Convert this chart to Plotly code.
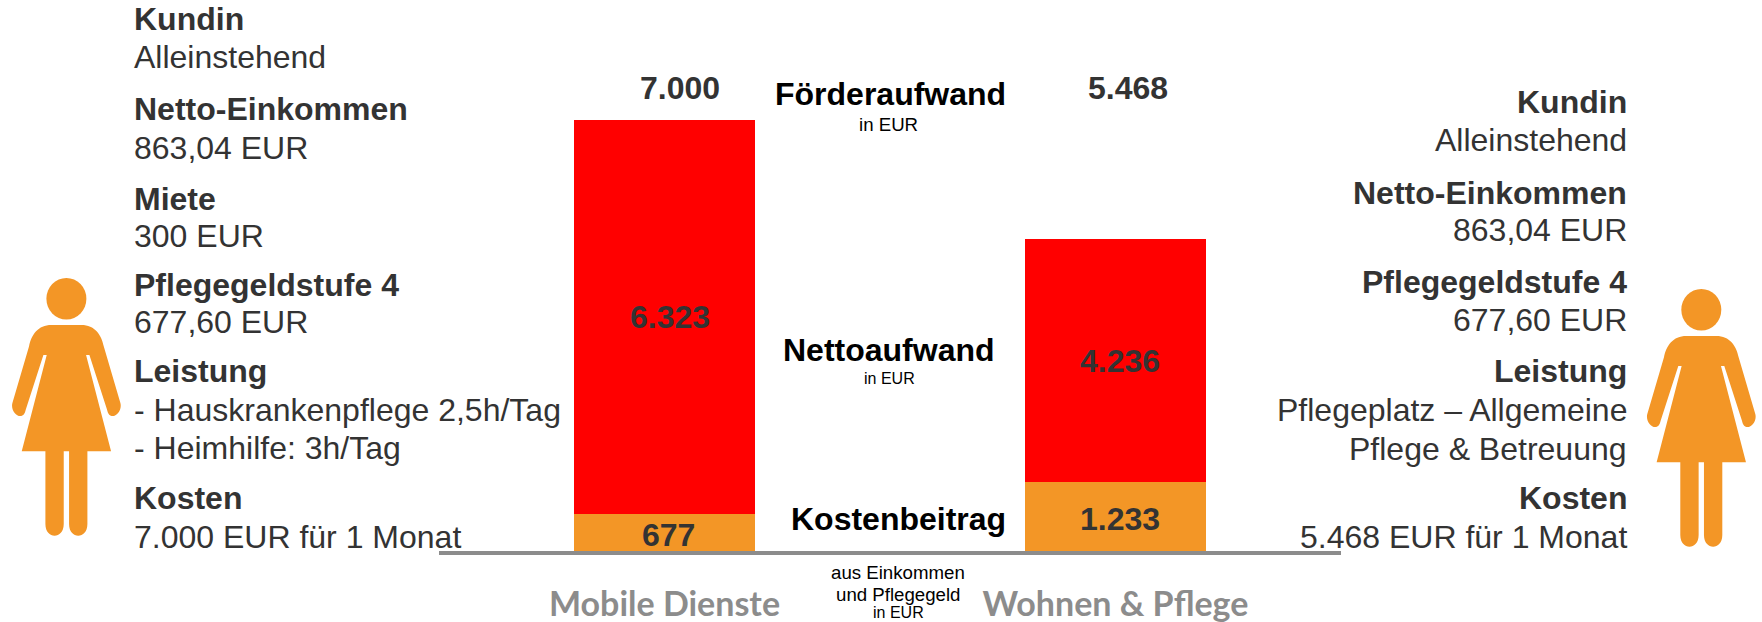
import plotly.graph_objects as go

W, H = 1762, 622
PLOT_L, PLOT_R, PLOT_B = 439, 1341, 551

# ---- data ----
categories = ["Mobile Dienste", "Wohnen & Pflege"]
# Printed figures
kostenbeitrag_labels = ["677", "1.233"]
nettoaufwand_labels = ["6.323", "4.236"]
total_labels = ["7.000", "5.468"]
# Drawn bar heights (the original is not drawn strictly to its labels)
kostenbeitrag_heights = [600, 1120]
nettoaufwand_heights = [6400, 3947]
Y_MAX = 8950

left_lines = [
    ("Kundin", True), ("Alleinstehend", False),
    ("Netto-Einkommen", True), ("863,04 EUR", False),
    ("Miete", True), ("300 EUR", False),
    ("Pflegegeldstufe 4", True), ("677,60 EUR", False),
    ("Leistung", True), ("- Hauskrankenpflege 2,5h/Tag", False), ("- Heimhilfe: 3h/Tag", False),
    ("Kosten", True), ("7.000 EUR für 1 Monat", False),
]
left_y = [19, 57, 109, 148, 199, 236, 285, 322, 371, 410, 448, 498, 537]
right_lines = [
    ("Kundin", True), ("Alleinstehend", False),
    ("Netto-Einkommen", True), ("863,04 EUR", False),
    ("Pflegegeldstufe 4", True), ("677,60 EUR", False),
    ("Leistung", True), ("Pflegeplatz – Allgemeine", False), ("Pflege & Betreuung", False),
    ("Kosten", True), ("5.468 EUR für 1 Monat", False),
]
right_y = [102, 140, 193, 230, 282, 320, 371, 410, 449, 498, 537]

ORANGE = "#F39626"
RED = "#FF0000"
DARK = "#333333"
GREY = "#8C8C8C"
FONT = "Liberation Sans"
SIZE = 32
SMALL = 18.67
TINY = 16


def px(x):
    return (x - PLOT_L) / (PLOT_R - PLOT_L)


def py(y):
    return (PLOT_B - y) / PLOT_B


fig = go.Figure()
fig.add_bar(x=categories, y=kostenbeitrag_heights, marker_color=ORANGE, marker_line_width=0, hoverinfo="skip")
fig.add_bar(x=categories, y=nettoaufwand_heights, marker_color=RED, marker_line_width=0, hoverinfo="skip")

# value labels sit at the middle of each segment, slightly right of the bar centre as in the reference
for i, cat in enumerate(categories):
    k, n = kostenbeitrag_heights[i], nettoaufwand_heights[i]
    fig.add_annotation(x=cat, y=k / 2, xref="x", yref="y", text=f"<b>{kostenbeitrag_labels[i]}</b>",
                       showarrow=False, xshift=4, yshift=-2, font=dict(family=FONT, size=SIZE, color=DARK))
    fig.add_annotation(x=cat, y=k + n / 2, xref="x", yref="y", text=f"<b>{nettoaufwand_labels[i]}</b>",
                       showarrow=False, xshift=5 if i == 0 else 4, font=dict(family=FONT, size=SIZE, color=DARK))


def note(text, x, y, size=SIZE, bold=False, color=DARK, anchor="center"):
    fig.add_annotation(text=f"<b>{text}</b>" if bold else text, x=px(x), y=py(y), xref="paper", yref="paper",
                       showarrow=False, xanchor=anchor, yanchor="middle", align=anchor,
                       font=dict(family=FONT, size=size, color=color), borderpad=0, borderwidth=0)


for (t, b), y in zip(left_lines, left_y):
    note(t, 134, y, bold=b, anchor="left")
for (t, b), y in zip(right_lines, right_y):
    note(t, 1627, y, bold=b, anchor="right")

note(total_labels[0], 680, 88, bold=True)
note(total_labels[1], 1128, 88, bold=True)
note("Förderaufwand", 890, 94, bold=True, color="#000000")
note("in EUR", 888, 125, size=SMALL, color="#000000")
note("Nettoaufwand", 889, 350, bold=True, color="#000000")
note("in EUR", 889, 378, size=TINY, color="#000000")
note("Kostenbeitrag", 898, 519, bold=True, color="#000000")
note("aus Einkommen", 898, 572, size=SMALL, color="#000000")
note("und Pflegegeld", 898, 594, size=SMALL, color="#000000")
note("in EUR", 898, 612, size=TINY, color="#000000")


# ---- person icons ----
def person(cx, top):
    def P(dx, dy):
        return f"{px(cx + dx / 3):.5f},{py(top + dy / 3):.5f}"

    half = [  # right half of the silhouette, from the shoulder down (icon units)
        "L", (45, 141), "C", (85, 141, 105, 170, 112, 205), "L", (162, 375),
        "C", (170, 405, 130, 435, 122, 395), "L", (69, 231), "L", (59, 231), "L", (134, 520), "L", (63, 520), "L", (63, 738),
        "C", (63, 785, 8, 785, 8, 738), "L", (8, 520),
    ]
    d = f"M {P(0, 141)}"
    i = 0
    while i < len(half):
        c, v = half[i], half[i + 1]
        i += 2
        d += f" {c} " + " ".join(P(v[k], v[k + 1]) for k in range(0, len(v), 2))
    d += f" L {P(-8, 520)} L {P(-8, 738)} C {P(-8, 785)} {P(-63, 785)} {P(-63, 738)} L {P(-63, 520)} L {P(-134, 520)}"
    d += f" L {P(-59, 231)} L {P(-69, 231)} L {P(-122, 395)} C {P(-130, 435)} {P(-170, 405)} {P(-162, 375)}"
    d += f" L {P(-112, 205)} C {P(-105, 170)} {P(-85, 141)} {P(-45, 141)} Z"
    fig.add_shape(type="path", path=d, xref="paper", yref="paper", fillcolor=ORANGE, line_width=0)
    fig.add_shape(type="circle", xref="paper", yref="paper", x0=px(cx - 20), x1=px(cx + 20),
                  y0=py(top), y1=py(top + 41.5), fillcolor=ORANGE, line_width=0)


person(66.4, 278)
person(1701.3, 289)

fig.update_layout(
    width=W, height=H, barmode="stack", bargap=0.6, showlegend=False,
    margin=dict(l=PLOT_L, r=W - PLOT_R, t=0, b=H - PLOT_B, autoexpand=False),
    paper_bgcolor="white", plot_bgcolor="white",
    xaxis=dict(range=[-0.5, 1.5], showgrid=False, zeroline=False, showline=True, linecolor=GREY, linewidth=4,
               ticks="outside", ticklen=20, tickcolor="rgba(0,0,0,0)", tickwidth=1,
               tickfont=dict(family="Lato", size=34, color=GREY, weight="bold")),
    yaxis=dict(range=[0, Y_MAX], visible=False, showgrid=False, zeroline=False),
)
fig.write_html("out.html", config=dict(displayModeBar=False),
               post_script="document.body.style.margin='0';document.documentElement.style.overflow='hidden';")
